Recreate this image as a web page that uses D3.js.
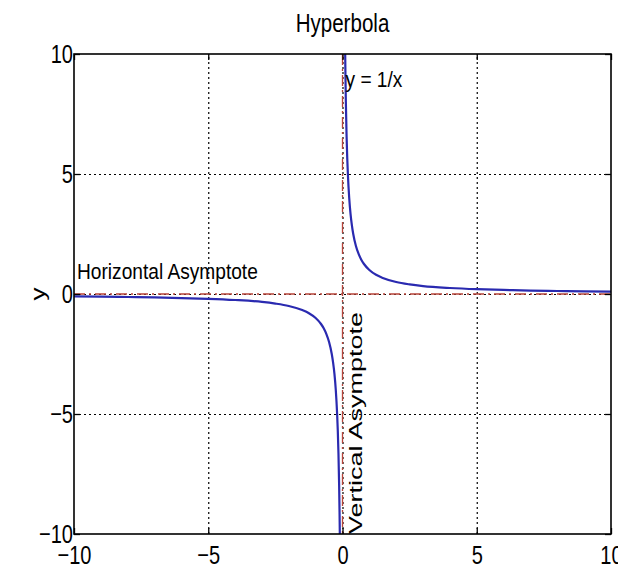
<!DOCTYPE html>
<html>
<head>
<meta charset="utf-8">
<script src="https://cdn.jsdelivr.net/npm/d3@7"></script>
<style>
  body { margin: 0; background: #fff; }
  text { font-family: 'Liberation Sans', Arial, sans-serif; fill: #000; }
</style>
</head>
<body>
<svg width="618" height="569"></svg>
<script>
// values
const xTicks = [-10, -5, 0, 5, 10];
const yTicks = [-10, -5, 0, 5, 10];
const gridTicks = [-5, 0, 5];

const negX = [-10, -9, -8, -7, -6, -5, -4, -3, -2.5, -2, -1.5, -1.25, -1, -0.8, -0.7, -0.6, -0.5, -0.4, -0.35, -0.3, -0.25, -0.2, -0.175, -0.15, -0.125, -0.11, -0.1];
const negY = [-0.1, -0.11, -0.125, -0.14, -0.17, -0.2, -0.25, -0.33, -0.4, -0.5, -0.67, -0.8, -1, -1.25, -1.43, -1.67, -2, -2.5, -2.86, -3.33, -4, -5, -5.71, -6.67, -8, -9.09, -10];
const posX = [0.1, 0.11, 0.125, 0.15, 0.175, 0.2, 0.25, 0.3, 0.35, 0.4, 0.5, 0.6, 0.7, 0.8, 1, 1.25, 1.5, 2, 2.5, 3, 4, 5, 6, 7, 8, 9, 10];
const posY = [10, 9.09, 8, 6.67, 5.71, 5, 4, 3.33, 2.86, 2.5, 2, 1.67, 1.43, 1.25, 1, 0.8, 0.67, 0.5, 0.4, 0.33, 0.25, 0.2, 0.17, 0.14, 0.125, 0.11, 0.1];

const labels = [
  { x: 0, y: 9, text: 'y = 1/x', rotate: 0 },
  { x: -10, y: 1, text: 'Horizontal Asymptote', rotate: 0 },
  { x: 0.5, y: -10, text: 'Vertical Asymptote', rotate: -90 }
];

(function (d3) {
  'use strict';

  const svg = d3.select('svg');

  const margin = { top: 54, left: 74, right: 7, bottom: 35 };
  const width = +svg.attr('width');
  const height = +svg.attr('height');
  const innerWidth = width - margin.left - margin.right;
  const innerHeight = height - margin.top - margin.bottom;

  // the picture's lettering is squeezed sideways
  const squeeze = (sel, k) => sel.each(function () {
    const w = this.getComputedTextLength();
    d3.select(this)
      .attr('textLength', w * k)
      .attr('lengthAdjust', 'spacingAndGlyphs');
  });

  const xScale = d3.scaleLinear().domain([-10, 10]).range([0, innerWidth]);
  const yScale = d3.scaleLinear().domain([-10, 10]).range([innerHeight, 0]);

  const g = svg.append('g')
    .attr('transform', `translate(${margin.left},${margin.top})`);

  // dotted grid
  const xGrid = g.append('g')
    .attr('transform', `translate(0,${innerHeight})`)
    .call(d3.axisBottom(xScale).tickValues(gridTicks).tickSize(-innerHeight).tickFormat(''));
  const yGrid = g.append('g')
    .call(d3.axisLeft(yScale).tickValues(gridTicks).tickSize(-innerWidth).tickFormat(''));
  [xGrid, yGrid].forEach(s => {
    s.select('.domain').remove();
    s.selectAll('line').attr('stroke', '#000').attr('stroke-width', 1.2).attr('stroke-dasharray', '2,3');
  });

  // asymptotes
  const asym = '#b8443a';
  g.append('line')
    .attr('x1', 0).attr('x2', innerWidth)
    .attr('y1', yScale(0)).attr('y2', yScale(0))
    .attr('stroke', asym).attr('stroke-width', 1.3)
    .attr('stroke-dasharray', '11,4,2,4');
  g.append('line')
    .attr('x1', xScale(0)).attr('x2', xScale(0))
    .attr('y1', 0).attr('y2', innerHeight)
    .attr('stroke', asym).attr('stroke-width', 1.3)
    .attr('stroke-dasharray', '11,4,2,4');

  // hyperbola branches
  const line = d3.line()
    .x(d => xScale(d[0]))
    .y(d => yScale(d[1]))
    .curve(d3.curveMonotoneX);

  [d3.zip(negX, negY), d3.zip(posX, posY)].forEach(branch => {
    g.append('path')
      .datum(branch)
      .attr('fill', 'none')
      .attr('stroke', '#2a2ab0')
      .attr('stroke-width', 2.2)
      .attr('d', line);
  });

  // axes with inward ticks
  const fmt = d => d < 0 ? '\u2212' + (-d) : d;
  const xAxisG = g.append('g')
    .attr('transform', `translate(0,${innerHeight})`)
    .call(d3.axisBottom(xScale).tickValues(xTicks).tickSize(-6).tickPadding(12).tickFormat(fmt));
  const yAxisG = g.append('g')
    .call(d3.axisLeft(yScale).tickValues(yTicks).tickSize(-6).tickPadding(1).tickFormat(fmt));
  const topG = g.append('g')
    .call(d3.axisTop(xScale).tickValues(xTicks).tickSize(-6).tickFormat(''));
  const rightG = g.append('g')
    .attr('transform', `translate(${innerWidth},0)`)
    .call(d3.axisRight(yScale).tickValues(yTicks).tickSize(-6).tickFormat(''));

  [xAxisG, yAxisG, topG, rightG].forEach(s => {
    s.select('.domain').remove();
    s.selectAll('line').attr('stroke', '#000').attr('stroke-width', 1.3);
    s.selectAll('text').attr('font-size', 26).attr('font-family', null).attr('fill', '#000')
      .call(squeeze, 0.77);
  });

  // box
  g.append('rect')
    .attr('width', innerWidth)
    .attr('height', innerHeight)
    .attr('fill', 'none')
    .attr('stroke', '#000')
    .attr('stroke-width', 1.6);

  // annotations
  const flat = labels.filter(d => d.rotate === 0);
  const turned = labels.filter(d => d.rotate !== 0);

  g.selectAll('.note').data(flat)
    .enter().append('text')
      .attr('class', 'note')
      .attr('font-size', 21.5)
      .attr('dy', '0.42em')
      .attr('x', d => xScale(d.x) + 3)
      .attr('y', d => yScale(d.y))
      .text(d => d.text)
      .call(squeeze, 0.89);

  g.selectAll('.vnote').data(turned)
    .enter().append('text')
      .attr('class', 'vnote')
      .attr('font-size', 27)
      .attr('dy', '0.35em')
      .attr('transform', d => `translate(${xScale(d.x)},${yScale(d.y)}) rotate(${d.rotate}) scale(1,0.66)`)
      .text(d => d.text);

  // title and y label
  svg.append('text')
    .attr('x', margin.left + xScale(0))
    .attr('y', 32)
    .attr('text-anchor', 'middle')
    .attr('font-size', 26)
    .text('Hyperbola')
    .call(squeeze, 0.79);

  svg.append('text')
    .attr('transform', `translate(38,${margin.top + yScale(0)}) rotate(-90) scale(1,0.75)`)
    .attr('text-anchor', 'middle')
    .attr('dy', '0.35em')
    .attr('font-size', 26)
    .text('y');
}(d3));
</script>
</body>
</html>
